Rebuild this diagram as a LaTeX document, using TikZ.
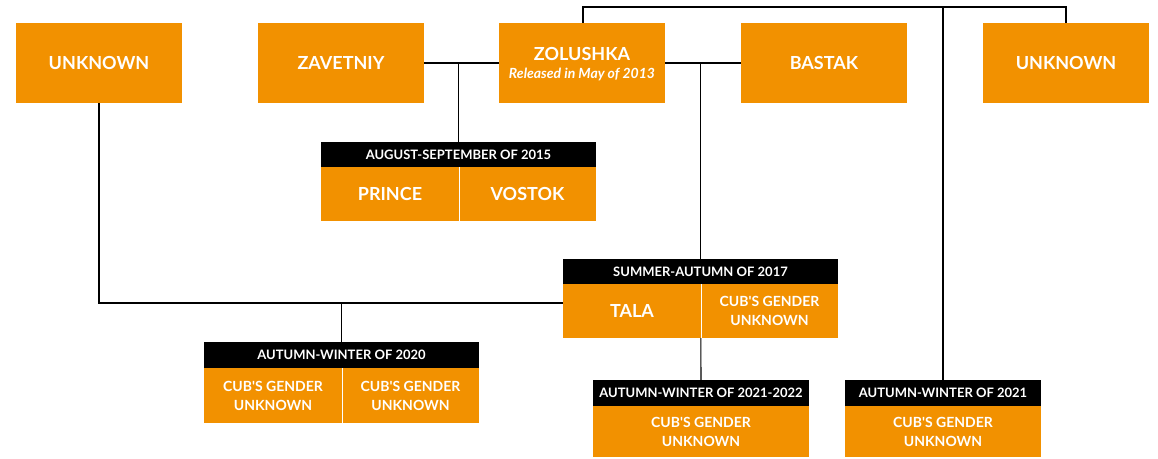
\documentclass[tikz,border=0pt]{standalone}
\usepackage{fontspec}
\setmainfont{Lato}
\definecolor{lorange}{HTML}{F29100}
\newcommand{\cubtext}{CUB\textquotesingle S GENDER\\UNKNOWN}
\tikzset{
  big/.style={font=\bfseries\fontsize{18}{20}\selectfont},
  small/.style={font=\bfseries\fontsize{14}{19}\selectfont},
  topbox/.style={fill=lorange,text=white,minimum width=166pt,minimum height=80pt,inner sep=0pt,anchor=center,align=center,big},
  hdr/.style={fill=black,text=white,minimum height=26pt,inner sep=0pt,anchor=center,font=\bfseries\fontsize{13}{14}\selectfont},
  cell/.style={fill=lorange,text=white,inner sep=0pt,anchor=center,align=center},
  link/.style={draw=black,line width=1.1pt},
  divider/.style={draw=white,line width=1pt}
}
\begin{document}
\begin{tikzpicture}[x=1pt,y=-1pt]
\useasboundingbox (0,0) rectangle (1158,458);
% top row
\node[topbox] (unk1) at (99,63) {UNKNOWN};
\node[topbox] (zav) at (341,63) {ZAVETNIY};
\node[topbox] (zol) at (582,63) {};
\node[text=white,big,anchor=base] (zolname) at (582,60) {ZOLUSHKA};
\node[text=white,anchor=base,font=\bfseries\itshape\fontsize{14}{15}\selectfont] (zolsub) at (582,78) {Released in May of 2013};
\node[topbox] (bas) at (824,63) {BASTAK};
\node[topbox] (unk2) at (1066,63) {UNKNOWN};
% August-September 2015
\node[hdr,minimum width=275pt] (augh) at (458.5,155) {AUGUST-SEPTEMBER OF 2015};
\node[cell,big,minimum width=138pt,minimum height=54pt] (prince) at (390,194) {PRINCE};
\node[cell,big,minimum width=137pt,minimum height=54pt] (vostok) at (527.5,194) {VOSTOK};
% Summer-Autumn 2017
\node[hdr,minimum width=275pt] (sumh) at (700.5,272) {SUMMER-AUTUMN OF 2017};
\node[cell,big,minimum width=138pt,minimum height=54pt] (tala) at (632,311) {TALA};
\node[cell,small,minimum width=137pt,minimum height=54pt] (cub1) at (769.5,311) {\cubtext};
% Autumn-Winter 2020
\node[hdr,minimum width=275pt] (aw20h) at (341.5,355) {AUTUMN-WINTER OF 2020};
\node[cell,small,minimum width=138pt,minimum height=55pt] (cub2) at (273,395.5) {\cubtext};
\node[cell,small,minimum width=137pt,minimum height=55pt] (cub3) at (410.5,395.5) {\cubtext};
% Autumn-Winter 2021-2022
\node[hdr,minimum width=216pt] (aw2122h) at (701,393) {AUTUMN-WINTER OF 2021-2022};
\node[cell,small,minimum width=216pt,minimum height=51pt] (cub4) at (701,431.5) {\cubtext};
% Autumn-Winter 2021
\node[hdr,minimum width=196pt] (aw21h) at (943,393) {AUTUMN-WINTER OF 2021};
\node[cell,small,minimum width=196pt,minimum height=51pt] (cub5) at (943,431.5) {\cubtext};
% dividers
\draw[divider] (prince.north east) -- (prince.south east);
\draw[divider] (tala.north east) -- (tala.south east);
\draw[divider] (cub2.north east) -- (cub2.south east);
% connectors
\coordinate (topl) at (583,7);
\coordinate (j1) at (99,303);
\draw[link] (zol.north -| topl) -- (topl) -| (unk2.north);
\draw[link] (aw21h.north) -- (aw21h.north |- topl);
\draw[link] (zav.east) -- (zol.west);
\draw[link] (augh.north) -- (augh.north |- zav.east);
\draw[link] (zol.east) -- (bas.west);
\draw[link] (sumh.north) -- (sumh.north |- zol.east);
\draw[link] (unk1.south) -- (j1) -- (j1 -| tala.west);
\draw[link] (aw20h.north) -- (aw20h.north |- j1);
\draw[link] (cub1.south west) -- (aw2122h.north);
\end{tikzpicture}
\end{document}
